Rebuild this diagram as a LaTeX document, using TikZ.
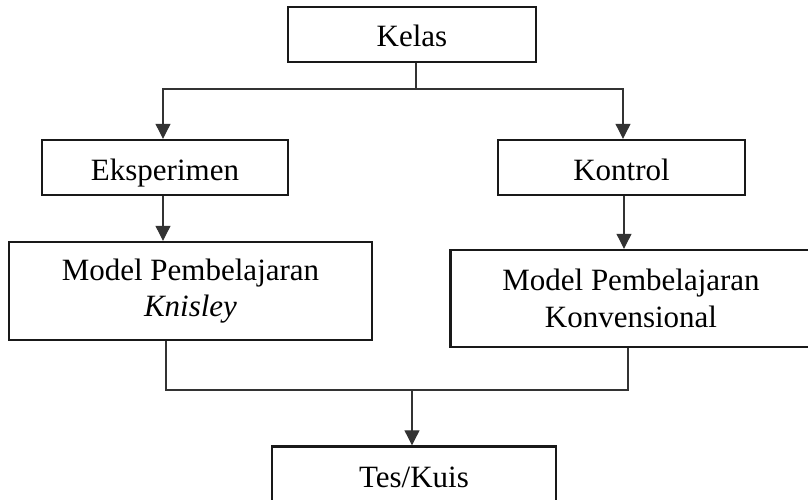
\documentclass[tikz,border=0pt]{standalone}
\usepackage{fontspec}
\setmainfont{Liberation Serif}
\usetikzlibrary{arrows.meta}
\begin{document}
\begin{tikzpicture}[x=1pt,y=-1pt,
  box/.style={draw=black!90, line width=2.4pt, inner sep=0pt, align=center,
    font=\fontsize{31}{36.7}\selectfont},
  onebox/.style={box, text height=25pt, text depth=0pt},
  conn/.style={line width=1.1pt, draw=black!80},
  arr/.style={conn, -{Triangle[length=15pt,width=15pt]}}]
\useasboundingbox (0,0) rectangle (808,500);
\clip (0,0) rectangle (808,500);
\node[onebox, minimum width=248pt, minimum height=55pt] (kelas) at (412,34.5) {Kelas};
\node[onebox, minimum width=246pt, minimum height=55pt] (eks) at (165,167.5) {Eksperimen};
\node[onebox, minimum width=247pt, minimum height=55pt] (kon) at (621.5,167.5) {Kontrol};
\node[box, minimum width=363pt, minimum height=98pt] (kni) at (190.5,291) {Model Pembelajaran\\\textit{Knisley}};
\node[box, minimum width=361pt, minimum height=97pt] (konv) at (631,298.5) {Model Pembelajaran\\Konvensional};
\node[onebox, minimum width=284pt, minimum height=57pt] (tes) at (414,475) {Tes/Kuis};
\coordinate (j1) at (416,89);
\coordinate (jl) at (163,89);
\coordinate (jr) at (623,89);
\coordinate (bl) at (166,390);
\coordinate (br) at (628,390);
\coordinate (bm) at (412,390);
\draw[conn] (kelas.south -| j1) -- (j1);
\draw[arr] (jr) -- (jl) -- (jl |- eks.north);
\draw[arr] (jl) -- (jr) -- (jr |- kon.north);
\draw[arr] (jl |- eks.south) -- (jl |- kni.north);
\draw[arr] (kon.south -| 624,0) -- (konv.north -| 624,0);
\draw[conn] (bl |- kni.south) -- (bl) -- (br) -- (br |- konv.south);
\draw[arr] (bm) -- (bm |- tes.north);
\end{tikzpicture}
\end{document}
